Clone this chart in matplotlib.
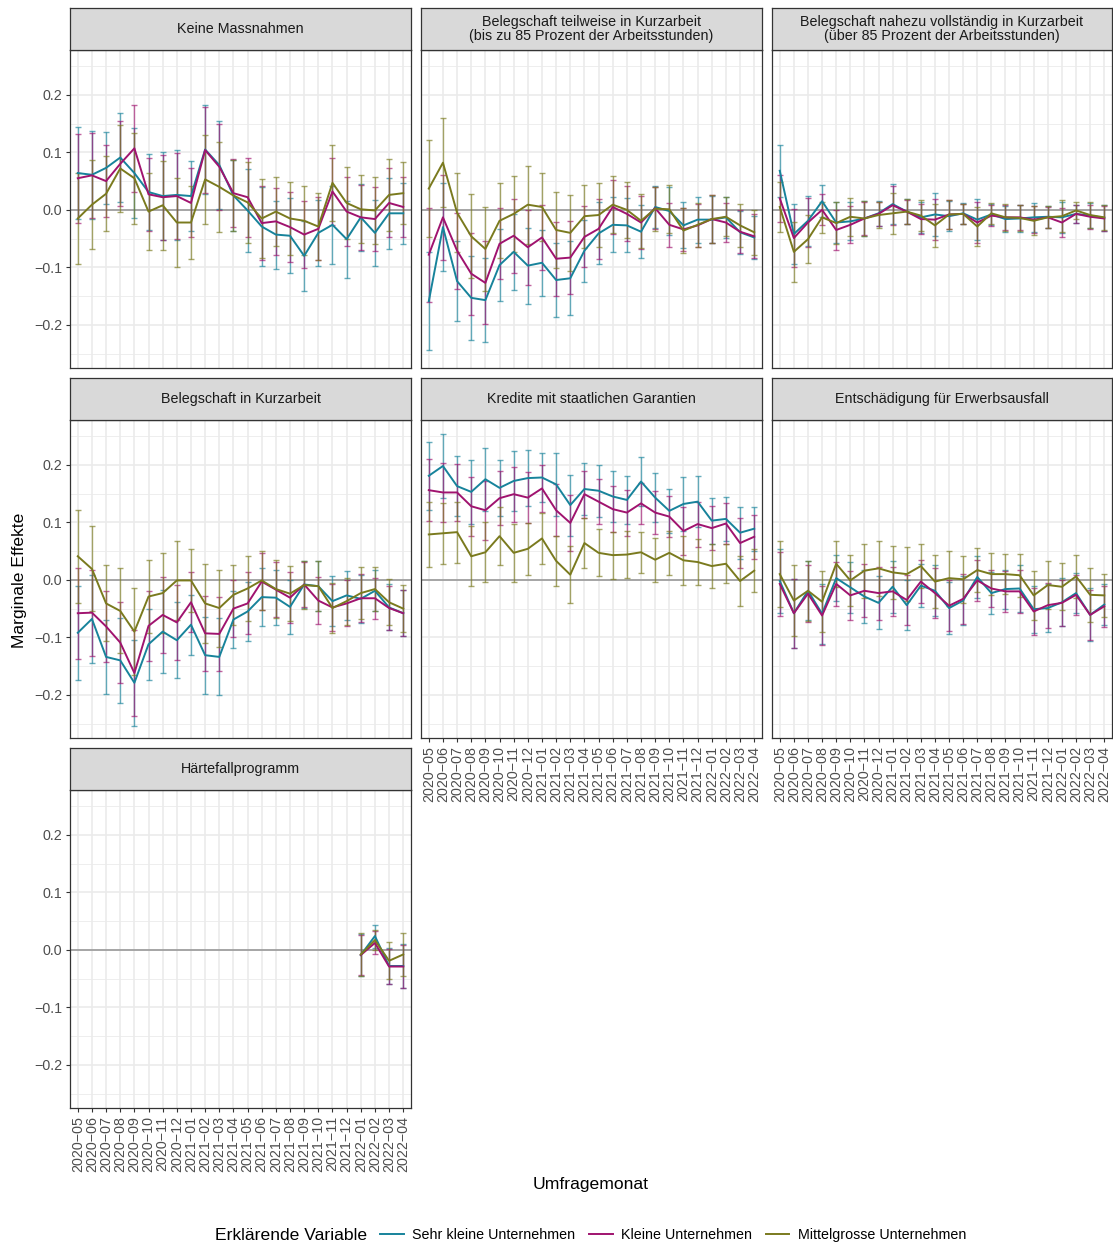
import matplotlib
matplotlib.use('Agg')
import matplotlib.pyplot as plt
import numpy as np
from matplotlib.lines import Line2D

plt.rcParams['font.family'] = ['Liberation Sans', 'DejaVu Sans']

# ---------------- data ----------------
months = ['2020-05', '2020-06', '2020-07', '2020-08', '2020-09', '2020-10', '2020-11', '2020-12',
          '2021-01', '2021-02', '2021-03', '2021-04', '2021-05', '2021-06', '2021-07', '2021-08',
          '2021-09', '2021-10', '2021-11', '2021-12', '2022-01', '2022-02', '2022-03', '2022-04']

series_names = ['Sehr kleine Unternehmen', 'Kleine Unternehmen', 'Mittelgrosse Unternehmen']

facet_titles = ['Keine Massnahmen',
                'Belegschaft teilweise in Kurzarbeit\n(bis zu 85 Prozent der Arbeitsstunden)',
                'Belegschaft nahezu vollständig in Kurzarbeit\n(über 85 Prozent der Arbeitsstunden)',
                'Belegschaft in Kurzarbeit',
                'Kredite mit staatlichen Garantien',
                'Entschädigung für Erwerbsausfall',
                'Härtefallprogramm']

# Keine Massnahmen
keine_sehr = [0.064, 0.061, 0.073, 0.091, 0.064, 0.031, 0.024, 0.026, 0.024, 0.105, 0.078, 0.025,
              -0.001, -0.029, -0.043, -0.045, -0.080, -0.040, -0.026, -0.051, -0.013, -0.040, -0.006, -0.006]
keine_klein = [0.055, 0.060, 0.050, 0.080, 0.107, 0.027, 0.022, 0.024, 0.012, 0.104, 0.075, 0.029,
               0.022, -0.023, -0.020, -0.030, -0.043, -0.033, 0.032, -0.003, -0.013, -0.016, 0.012, 0.005]
keine_mittel = [-0.015, 0.009, 0.028, 0.072, 0.055, -0.003, 0.008, -0.022, -0.022, 0.053, 0.040, 0.025,
                0.013, -0.015, -0.003, -0.015, -0.019, -0.029, 0.047, 0.012, 0.001, -0.001, 0.026, 0.029]
keine_sehr_ci = [0.080, 0.077, 0.063, 0.077, 0.078, 0.066, 0.077, 0.078, 0.061, 0.077, 0.077, 0.061,
                 0.072, 0.068, 0.059, 0.065, 0.061, 0.057, 0.068, 0.067, 0.058, 0.057, 0.062, 0.053]
keine_klein_ci = [0.077, 0.074, 0.062, 0.074, 0.076, 0.064, 0.074, 0.075, 0.060, 0.075, 0.075, 0.059,
                  0.069, 0.064, 0.058, 0.061, 0.058, 0.055, 0.058, 0.060, 0.057, 0.055, 0.060, 0.052]
keine_mittel_ci = [0.079, 0.077, 0.065, 0.076, 0.079, 0.067, 0.077, 0.078, 0.063, 0.078, 0.078, 0.061,
                   0.071, 0.068, 0.060, 0.064, 0.060, 0.058, 0.066, 0.062, 0.059, 0.058, 0.062, 0.054]

# Belegschaft teilweise in Kurzarbeit
teil_sehr = [-0.159, -0.030, -0.124, -0.153, -0.157, -0.096, -0.073, -0.097, -0.092, -0.122, -0.119, -0.071,
             -0.041, -0.026, -0.027, -0.038, 0.005, -0.002, -0.027, -0.017, -0.017, -0.013, -0.039, -0.048]
teil_klein = [-0.078, -0.013, -0.071, -0.111, -0.127, -0.059, -0.045, -0.065, -0.048, -0.085, -0.083, -0.047,
              -0.033, 0.005, -0.007, -0.022, 0.003, -0.026, -0.034, -0.027, -0.016, -0.022, -0.038, -0.046]
teil_mittel = [0.037, 0.082, -0.005, -0.046, -0.068, -0.019, -0.007, 0.009, 0.005, -0.035, -0.040, -0.011,
               -0.009, 0.009, 0.000, -0.019, 0.002, 0.001, -0.036, -0.026, -0.016, -0.012, -0.027, -0.039]
teil_sehr_ci = [0.085, 0.076, 0.070, 0.073, 0.073, 0.062, 0.066, 0.066, 0.057, 0.065, 0.064, 0.054,
                0.054, 0.048, 0.047, 0.046, 0.037, 0.041, 0.040, 0.040, 0.041, 0.036, 0.037, 0.038]
teil_klein_ci = [0.082, 0.074, 0.066, 0.071, 0.072, 0.062, 0.064, 0.065, 0.057, 0.064, 0.063, 0.053,
                 0.052, 0.047, 0.048, 0.046, 0.037, 0.038, 0.038, 0.037, 0.041, 0.034, 0.037, 0.038]
teil_mittel_ci = [0.085, 0.077, 0.069, 0.073, 0.073, 0.065, 0.066, 0.068, 0.059, 0.066, 0.066, 0.055,
                  0.055, 0.050, 0.049, 0.047, 0.038, 0.042, 0.039, 0.038, 0.041, 0.034, 0.038, 0.039]

# Belegschaft nahezu vollständig in Kurzarbeit
voll_sehr = [0.068, -0.042, -0.019, 0.015, -0.022, -0.020, -0.015, -0.006, 0.010, -0.003, -0.013, -0.008,
             -0.011, -0.006, -0.017, -0.008, -0.016, -0.015, -0.013, -0.012, -0.013, -0.007, -0.010, -0.014]
voll_klein = [0.020, -0.049, -0.022, 0.000, -0.035, -0.026, -0.015, -0.007, 0.008, -0.003, -0.016, -0.017,
              -0.008, -0.007, -0.022, -0.010, -0.013, -0.013, -0.017, -0.013, -0.022, -0.007, -0.012, -0.015]
voll_mittel = [0.005, -0.073, -0.051, -0.013, -0.023, -0.012, -0.015, -0.009, -0.006, -0.003, -0.010, -0.027,
               -0.008, -0.007, -0.029, -0.006, -0.013, -0.014, -0.019, -0.013, -0.011, -0.001, -0.009, -0.013]
voll_sehr_ci = [0.045, 0.052, 0.043, 0.028, 0.036, 0.033, 0.030, 0.022, 0.035, 0.022, 0.027, 0.037,
                0.026, 0.018, 0.036, 0.018, 0.023, 0.023, 0.025, 0.019, 0.027, 0.015, 0.022, 0.022]
voll_klein_ci = [0.041, 0.050, 0.042, 0.027, 0.035, 0.032, 0.029, 0.021, 0.034, 0.021, 0.026, 0.036,
                 0.025, 0.018, 0.035, 0.018, 0.022, 0.022, 0.024, 0.018, 0.026, 0.015, 0.021, 0.021]
voll_mittel_ci = [0.043, 0.052, 0.042, 0.027, 0.036, 0.033, 0.030, 0.022, 0.036, 0.022, 0.027, 0.038,
                  0.026, 0.018, 0.034, 0.018, 0.023, 0.023, 0.025, 0.019, 0.028, 0.015, 0.022, 0.022]

# Belegschaft in Kurzarbeit
kurz_sehr = [-0.092, -0.068, -0.134, -0.140, -0.179, -0.112, -0.090, -0.105, -0.078, -0.131, -0.134, -0.069,
             -0.055, -0.030, -0.031, -0.047, -0.008, -0.011, -0.037, -0.027, -0.033, -0.019, -0.048, -0.058]
kurz_klein = [-0.058, -0.057, -0.081, -0.109, -0.162, -0.080, -0.061, -0.074, -0.039, -0.093, -0.094, -0.050,
              -0.041, -0.003, -0.017, -0.031, -0.008, -0.036, -0.048, -0.041, -0.032, -0.032, -0.049, -0.058]
kurz_mittel = [0.041, 0.019, -0.041, -0.054, -0.090, -0.029, -0.023, -0.001, -0.001, -0.041, -0.049, -0.026,
               -0.015, -0.001, -0.016, -0.024, -0.009, -0.011, -0.049, -0.037, -0.023, -0.016, -0.039, -0.050]
kurz_sehr_ci = [0.082, 0.077, 0.064, 0.074, 0.075, 0.062, 0.072, 0.066, 0.052, 0.067, 0.067, 0.050,
                0.052, 0.050, 0.048, 0.047, 0.041, 0.043, 0.043, 0.043, 0.042, 0.036, 0.040, 0.040]
kurz_klein_ci = [0.079, 0.075, 0.062, 0.071, 0.074, 0.061, 0.066, 0.065, 0.052, 0.065, 0.065, 0.049,
                 0.054, 0.050, 0.048, 0.044, 0.039, 0.041, 0.041, 0.040, 0.042, 0.036, 0.039, 0.040]
kurz_mittel_ci = [0.081, 0.074, 0.066, 0.074, 0.076, 0.064, 0.070, 0.069, 0.055, 0.068, 0.067, 0.052,
                  0.057, 0.051, 0.050, 0.048, 0.041, 0.043, 0.043, 0.041, 0.045, 0.038, 0.040, 0.041]

# Kredite mit staatlichen Garantien
kredit_sehr = [0.181, 0.198, 0.163, 0.153, 0.175, 0.160, 0.172, 0.177, 0.178, 0.166, 0.130, 0.158,
               0.155, 0.145, 0.139, 0.171, 0.143, 0.120, 0.132, 0.136, 0.103, 0.106, 0.082, 0.089]
kredit_klein = [0.156, 0.152, 0.152, 0.128, 0.121, 0.142, 0.149, 0.143, 0.159, 0.121, 0.099, 0.149,
                0.136, 0.123, 0.117, 0.133, 0.117, 0.110, 0.085, 0.097, 0.090, 0.098, 0.064, 0.075]
kredit_mittel = [0.079, 0.081, 0.083, 0.041, 0.048, 0.076, 0.047, 0.054, 0.072, 0.033, 0.009, 0.064,
                 0.047, 0.043, 0.044, 0.048, 0.035, 0.047, 0.034, 0.031, 0.024, 0.028, -0.002, 0.016]
kredit_sehr_ci = [0.059, 0.055, 0.052, 0.055, 0.055, 0.049, 0.052, 0.048, 0.043, 0.055, 0.053, 0.045,
                  0.045, 0.045, 0.042, 0.043, 0.042, 0.038, 0.047, 0.044, 0.040, 0.038, 0.045, 0.038]
kredit_klein_ci = [0.054, 0.052, 0.050, 0.051, 0.051, 0.047, 0.048, 0.044, 0.041, 0.045, 0.049, 0.041,
                   0.039, 0.040, 0.040, 0.036, 0.038, 0.036, 0.041, 0.039, 0.038, 0.035, 0.043, 0.038]
kredit_mittel_ci = [0.056, 0.053, 0.053, 0.052, 0.052, 0.050, 0.050, 0.045, 0.044, 0.043, 0.050, 0.043,
                    0.041, 0.041, 0.041, 0.036, 0.038, 0.038, 0.043, 0.040, 0.039, 0.034, 0.043, 0.037]

# Entschädigung für Erwerbsausfall
erwerb_sehr = [-0.002, -0.058, -0.019, -0.059, 0.003, -0.013, -0.029, -0.040, -0.012, -0.044, -0.010, -0.019,
               -0.049, -0.036, 0.005, -0.023, -0.016, -0.015, -0.051, -0.049, -0.039, -0.023, -0.061, -0.043]
erwerb_klein = [-0.007, -0.058, -0.024, -0.062, -0.007, -0.027, -0.019, -0.023, -0.020, -0.035, -0.003, -0.023,
                -0.045, -0.033, -0.001, -0.015, -0.020, -0.020, -0.055, -0.044, -0.040, -0.026, -0.061, -0.046]
erwerb_mittel = [0.010, -0.036, -0.019, -0.038, 0.028, -0.001, 0.016, 0.020, 0.013, 0.010, 0.024, -0.003,
                 0.003, 0.001, 0.017, 0.010, 0.010, 0.008, -0.027, -0.009, -0.012, 0.006, -0.026, -0.027]
erwerb_sehr_ci = [0.056, 0.060, 0.051, 0.052, 0.040, 0.044, 0.046, 0.046, 0.045, 0.044, 0.038, 0.044,
                  0.045, 0.043, 0.036, 0.036, 0.034, 0.041, 0.041, 0.042, 0.042, 0.035, 0.046, 0.036]
erwerb_klein_ci = [0.055, 0.060, 0.049, 0.052, 0.038, 0.042, 0.046, 0.046, 0.043, 0.044, 0.038, 0.044,
                   0.044, 0.043, 0.036, 0.033, 0.036, 0.037, 0.041, 0.039, 0.040, 0.035, 0.044, 0.036]
erwerb_mittel_ci = [0.058, 0.061, 0.052, 0.053, 0.040, 0.045, 0.047, 0.048, 0.046, 0.047, 0.038, 0.046,
                    0.048, 0.041, 0.038, 0.036, 0.035, 0.037, 0.043, 0.042, 0.041, 0.037, 0.047, 0.037]

# Härtefallprogramm (only from 2022-01)
haerte_months = ['2022-01', '2022-02', '2022-03', '2022-04']
haerte_sehr = [-0.009, 0.024, -0.028, -0.028]
haerte_klein = [-0.009, 0.012, -0.029, -0.029]
haerte_mittel = [-0.008, 0.017, -0.019, -0.008]
haerte_sehr_ci = [0.036, 0.020, 0.032, 0.038]
haerte_klein_ci = [0.035, 0.020, 0.031, 0.037]
haerte_mittel_ci = [0.038, 0.017, 0.032, 0.038]

y_ticks = [-0.2, -0.1, 0.0, 0.1, 0.2]
y_tick_labels = ['\u22120.2', '\u22120.1', '0.0', '0.1', '0.2']
x_tick_labels = [m.replace('-', '\u2212') for m in months]

colors = ['#17839B', '#A0136F', '#7A7A1E']

panels = [
    (months, [(keine_sehr, keine_sehr_ci), (keine_klein, keine_klein_ci), (keine_mittel, keine_mittel_ci)]),
    (months, [(teil_sehr, teil_sehr_ci), (teil_klein, teil_klein_ci), (teil_mittel, teil_mittel_ci)]),
    (months, [(voll_sehr, voll_sehr_ci), (voll_klein, voll_klein_ci), (voll_mittel, voll_mittel_ci)]),
    (months, [(kurz_sehr, kurz_sehr_ci), (kurz_klein, kurz_klein_ci), (kurz_mittel, kurz_mittel_ci)]),
    (months, [(kredit_sehr, kredit_sehr_ci), (kredit_klein, kredit_klein_ci), (kredit_mittel, kredit_mittel_ci)]),
    (months, [(erwerb_sehr, erwerb_sehr_ci), (erwerb_klein, erwerb_klein_ci), (erwerb_mittel, erwerb_mittel_ci)]),
    (haerte_months, [(haerte_sehr, haerte_sehr_ci), (haerte_klein, haerte_klein_ci), (haerte_mittel, haerte_mittel_ci)]),
]

# ---------------- layout ----------------
W, H = 1113, 1245
fig = plt.figure(figsize=(W / 100, H / 100), dpi=100)

col_x = [(70, 411), (421, 762), (772, 1112)]
row_y = [(50, 368), (420, 738), (790, 1108)]
strip_h = 42

def frac_rect(x0, y0, x1, y1):
    return [x0 / W, 1 - y1 / H, (x1 - x0) / W, (y1 - y0) / H]

FS = 10.3
x_index = {m: i for i, m in enumerate(months)}

for k, (title, (mlist, series)) in enumerate(zip(facet_titles, panels)):
    r, c = divmod(k, 3)
    x0, x1 = col_x[c]
    y0, y1 = row_y[r]
    ax = fig.add_axes(frac_rect(x0, y0, x1, y1))
    sax = fig.add_axes(frac_rect(x0, y0 - strip_h, x1, y0))

    # strip
    sax.set_facecolor('#D9D9D9')
    sax.set_xticks([]); sax.set_yticks([])
    for sp in sax.spines.values():
        sp.set_color('#333333'); sp.set_linewidth(0.9)
    sax.text(0.5, 0.5, title, ha='center', va='center', fontsize=FS,
             color='#1A1A1A', linespacing=0.95, transform=sax.transAxes)

    # panel
    ax.set_facecolor('white')
    ax.set_xlim(-0.55, len(months) - 1 + 0.55)
    ax.set_ylim(-0.275, 0.278)
    ax.set_xticks(range(len(months)))
    ax.set_yticks(y_ticks)
    ax.set_yticks([-0.25, -0.15, -0.05, 0.05, 0.15, 0.25], minor=True)
    ax.grid(which='major', color='#EBEBEB', lw=1.2, zorder=0)
    ax.grid(which='minor', axis='y', color='#EBEBEB', lw=0.6, zorder=0)
    ax.set_axisbelow(True)
    for sp in ax.spines.values():
        sp.set_color('#333333'); sp.set_linewidth(0.9)
    ax.tick_params(which='minor', length=0)
    ax.tick_params(which='major', length=3, width=0.8, color='#333333',
                   labelcolor='#4D4D4D', labelsize=FS, pad=2.5)

    ax.axhline(0, color='#999999', lw=1.2, zorder=2)

    xs = [x_index[m] for m in mlist]
    for (vals, ci), col in zip(series, colors):
        ax.errorbar(xs, vals, yerr=ci, fmt='none', ecolor=col, elinewidth=1.0,
                    capsize=2.2, capthick=1.0, alpha=0.65, zorder=3)
    for (vals, ci), col in zip(series, colors):
        ax.plot(xs, vals, color=col, lw=1.4, zorder=4, solid_joinstyle='round')

    # y labels on first column only
    if c == 0:
        ax.set_yticklabels(y_tick_labels)
    else:
        ax.tick_params(axis='y', length=0, labelleft=False)
    # x labels on bottom panel of each column
    bottom = (c == 0 and r == 2) or (c > 0 and r == 1)
    if bottom:
        ax.set_xticklabels(x_tick_labels, rotation=90)
    else:
        ax.tick_params(axis='x', length=0, labelbottom=False)

# axis titles
fig.text(20 / W, 1 - 580 / H, 'Marginale Effekte', rotation=90, ha='center', va='center',
         fontsize=12.6, color='black')
fig.text(591 / W, 1 - 1185 / H, 'Umfragemonat', ha='center', va='center',
         fontsize=12.6, color='black')

# legend
fig.text(215 / W, 1 - 1235 / H, 'Erklärende Variable', ha='left', va='center',
         fontsize=12.6, color='black')
handles = [Line2D([], [], color=col, lw=1.4) for col in colors]
fig.legend(handles, series_names, loc='center left', bbox_to_anchor=(380 / W, 1 - 1235 / H),
           ncol=3, frameon=False, fontsize=FS, handlelength=1.65, handletextpad=0.6,
           columnspacing=0.95, borderpad=0, borderaxespad=0)

fig.savefig('out.png', dpi=100, facecolor='white')
